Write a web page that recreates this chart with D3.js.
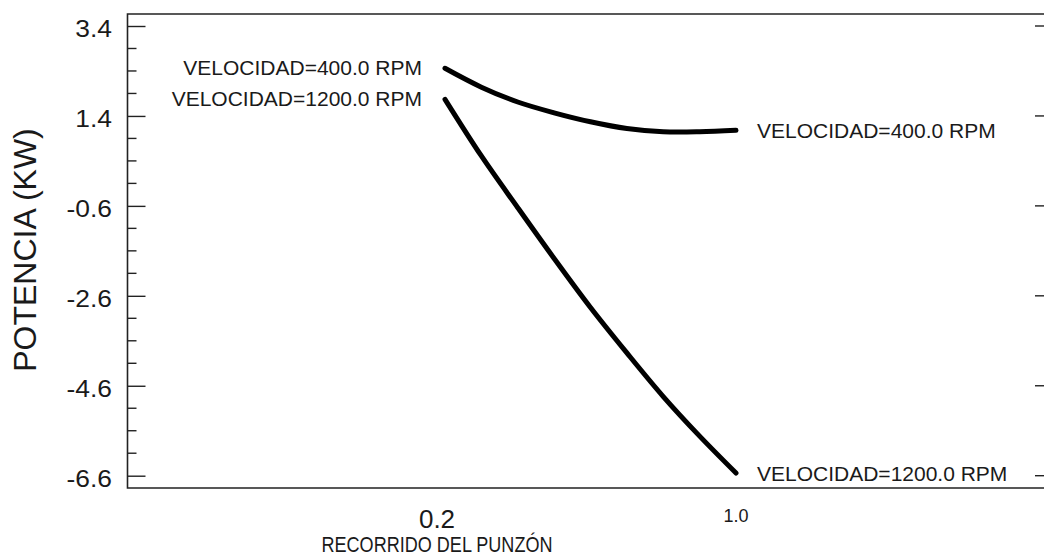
<!DOCTYPE html>
<html>
<head>
<meta charset="utf-8">
<script src="https://cdn.jsdelivr.net/npm/d3@7"></script>
<style>
  html, body { margin: 0; padding: 0; background: #fff; }
  svg { display: block; }
  text { font-family: "Liberation Sans", Arial, sans-serif; fill: #1a1a1a; }
</style>
</head>
<body>
<svg id="chart" width="1044" height="557"></svg>
<script>
// Punch stroke position (x) and power (y, kW) for two spindle speeds
const recorrido = [0.2, 0.3, 0.4, 0.5, 0.6, 0.7, 0.8, 0.9, 1.0];
const potencia400 = [2.46, 2.04, 1.71, 1.47, 1.27, 1.12, 1.05, 1.05, 1.08];
const potencia1200 = [1.77, 0.51, -0.64, -1.77, -2.86, -3.87, -4.84, -5.72, -6.54];
const seriesNames = ["VELOCIDAD=400.0 RPM", "VELOCIDAD=1200.0 RPM"];
const yTicks = [3.4, 1.4, -0.6, -2.6, -4.6, -6.6];
const xTicks = [0.2, 1.0];

const plot = { left: 127.5, right: 1046, top: 14, bottom: 488 };

const svg = d3.select("#chart");

const x = d3.scaleLinear().domain([0.2, 1.0]).range([445, 736]);
const y = d3.scaleLinear().domain([3.4, -6.6]).range([26, 475.7]);

// One decimal, plain hyphen for negatives
const fmt = v => v.toFixed(1);

// Frame: top, bottom and left edges
svg.append("path")
  .attr("d", `M${plot.right},${plot.top}H${plot.left}V${plot.bottom}H${plot.right}`)
  .attr("fill", "none").attr("stroke", "#222").attr("stroke-width", 1.6);

// Minor ticks every 0.5 kW on the left edge
const minor = d3.range(-6.6, 3.41, 0.5).filter(v => !yTicks.some(t => Math.abs(t - v) < 1e-6));
svg.append("g").selectAll("line").data(minor).join("line")
  .attr("x1", plot.left).attr("x2", plot.left + 9)
  .attr("y1", d => y(d)).attr("y2", d => y(d))
  .attr("stroke", "#222").attr("stroke-width", 1.4);

// Left axis with major ticks pointing into the plot
const yAxis = d3.axisLeft(y)
  .tickValues(yTicks)
  .tickFormat(fmt)
  .tickSizeInner(-18)
  .tickSizeOuter(0)
  .tickPadding(15.5);

const gy = svg.append("g").attr("transform", `translate(${plot.left},0)`).call(yAxis);
gy.select(".domain").remove();
gy.selectAll(".tick line").attr("stroke", "#222").attr("stroke-width", 1.4);
gy.selectAll(".tick text")
  .attr("dy", "0.43em")
  .style("font-size", "24px")
  .style("font-family", "'Liberation Sans', Arial, sans-serif")
  .attr("fill", "#1a1a1a")
  .attr("transform", function () {
    const tx = +d3.select(this).attr("x");
    return `translate(${tx},0) scale(1.1,1) translate(${-tx},0)`;
  });

// Short major ticks on the right edge
svg.append("g").selectAll("line").data(yTicks).join("line")
  .attr("x1", 1035).attr("x2", plot.right)
  .attr("y1", d => y(d)).attr("y2", d => y(d))
  .attr("stroke", "#222").attr("stroke-width", 1.4);

// X tick labels (no tick marks drawn)
svg.append("text")
  .attr("x", x(xTicks[0]) - 8).attr("y", 528)
  .attr("text-anchor", "middle")
  .style("font-size", "26px")
  .text(fmt(xTicks[0]));
svg.append("text")
  .attr("x", x(xTicks[1])).attr("y", 522)
  .attr("text-anchor", "middle")
  .style("font-size", "18px")
  .text(fmt(xTicks[1]));

// Axis titles
svg.append("text")
  .attr("x", x(xTicks[0]) - 8).attr("y", 552)
  .attr("text-anchor", "middle")
  .attr("textLength", 231)
  .attr("lengthAdjust", "spacingAndGlyphs")
  .style("font-size", "22px")
  .text("RECORRIDO DEL PUNZÓN");

svg.append("text")
  .attr("transform", "translate(36,250) rotate(-90)")
  .attr("text-anchor", "middle")
  .style("font-size", "32px")
  .text("POTENCIA (KW)");

// Curves
const line = d3.line()
  .x(d => x(d[0]))
  .y(d => y(d[1]))
  .curve(d3.curveCatmullRom.alpha(0.5));

const series = [potencia400, potencia1200];
svg.append("g").selectAll("path").data(series).join("path")
  .attr("d", vals => line(recorrido.map((r, i) => [r, vals[i]])))
  .attr("fill", "none")
  .attr("stroke", "#000")
  .attr("stroke-width", 5)
  .attr("stroke-linecap", "round")
  .attr("stroke-linejoin", "round");

// Series labels at the start and end of each curve
const last = recorrido.length - 1;
series.forEach((vals, i) => {
  svg.append("text")
    .attr("x", x(recorrido[0]) - 23)
    .attr("y", y(vals[0]) + 6.5)
    .attr("text-anchor", "end")
    .style("font-size", "21px")
    .text(seriesNames[i]);
  svg.append("text")
    .attr("x", x(recorrido[last]) + 21)
    .attr("y", y(vals[last]) + 7.5)
    .attr("text-anchor", "start")
    .style("font-size", "21px")
    .text(seriesNames[i]);
});
</script>
</body>
</html>
